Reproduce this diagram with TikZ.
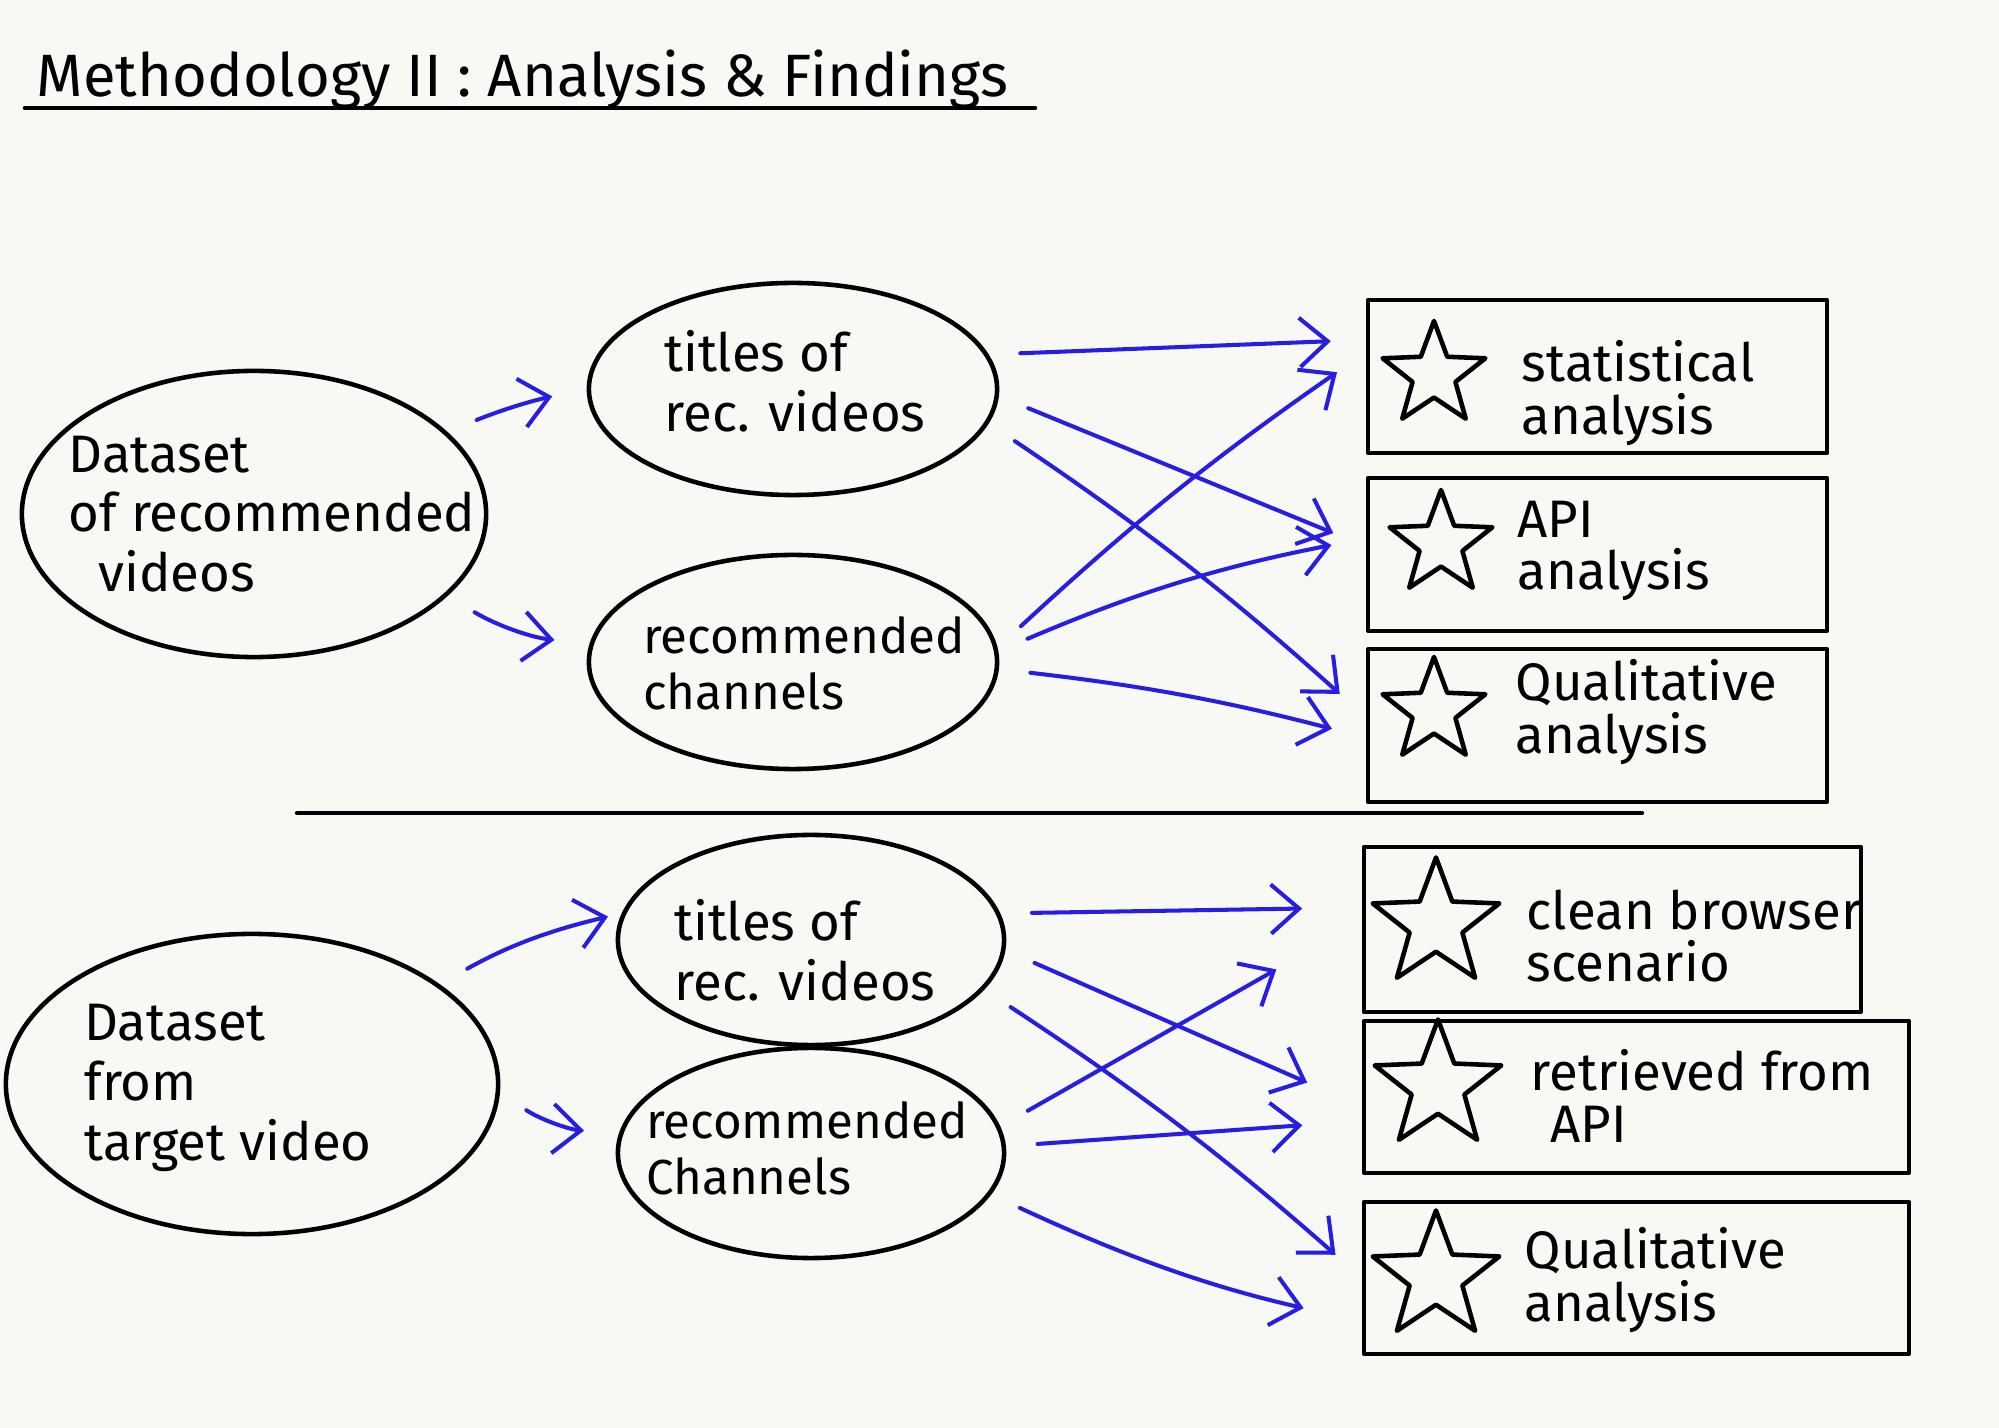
\documentclass[tikz,border=0pt]{standalone}
\usepackage{fontspec}
\setmainfont{Fira Sans}
\usetikzlibrary{shapes.geometric,arrows.meta}
\definecolor{paper}{RGB}{248,248,245}
\definecolor{pen}{RGB}{40,30,225}
\newcommand\handbig{\fontsize{17}{17}\selectfont}
\newcommand\handmid{\fontsize{15}{17}\selectfont}
\newcommand\handsmall{\fontsize{15}{15}\selectfont}
\newcommand\handtight{\fontsize{14}{16}\selectfont}
\tikzset{
	oval/.style={draw, ellipse, line width=1.3pt, inner sep=0pt},
	ovaltext/.style={align=left, inner sep=0pt, font=\handmid},
	resultbox/.style={draw, line width=1.1pt, minimum width=4.59cm, minimum height=1.53cm},
	starmark/.style={draw, star, star points=5, star point ratio=2.4, line width=1.3pt, inner sep=0pt, minimum size=1.08cm},
	boxtext/.style={anchor=west, align=left, font=\handsmall, inner sep=0pt},
	flow/.style={->, pen, line width=1.15pt, shorten <=9pt, shorten >=10pt},
	far/.style={shorten >=17pt}
}
\begin{document}
\begin{tikzpicture}[x=0.01cm, y=-0.01cm, >={Straight Barb[length=8pt,width=14pt]}, line join=round, line cap=round]
		\fill[paper] (0,0) rectangle (1999,1428);
		\useasboundingbox (0,0) rectangle (1999,1428);
		\node[anchor=base west, inner sep=0pt, font=\handbig] (title) at (36,97) {Methodology II : Analysis \& Findings};
		\draw[line width=1.3pt] (25,108)--(1035,108);
		\draw[line width=1.2pt] (297,813)--(1642,813);
		
		\node[oval, minimum width=4.64cm, minimum height=2.86cm] (d1) at (254,514) {};
		\node[oval, minimum width=4.08cm, minimum height=2.12cm] (t1) at (793,389) {};
		\node[oval, minimum width=4.08cm, minimum height=2.14cm] (c1) at (793,662) {};
		\node[ovaltext] (d1txt) at (272,514) {Dataset\\of recommended\\\hspace{0.3cm}videos};
		\node[ovaltext] (t1txt) at (795,381) {titles of\\rec. videos};
		\node[ovaltext, font=\handtight] (c1txt) at (804,663) {recommended\\channels};
		\node[resultbox] (b1) at (1597.5,376.5) {};
		\node[resultbox] (b2) at (1597.5,554.5) {};
		\node[resultbox] (b3) at (1597.5,725.5) {};
		\node[starmark] (s1) at (1434,375) {};
		\node[starmark] (s2) at (1441,544) {};
		\node[starmark] (s3) at (1434,711) {};
		\node[boxtext] (l1) at (1521,393) {statistical\\analysis};
		\node[boxtext] (l2) at (1517,551) {API\\analysis};
		\node[boxtext] (l3) at (1515,712) {Qualitative\\analysis};
		
		\node[oval, minimum width=4.92cm, minimum height=3.00cm] (d2) at (252,1084) {};
		\node[oval, minimum width=3.86cm, minimum height=2.10cm] (t2) at (811,940) {};
		\node[oval, minimum width=3.86cm, minimum height=2.10cm] (c2) at (811,1153) {};
		\node[ovaltext] (d2txt) at (228,1088) {Dataset\\from\\target video};
		\node[ovaltext] (t2txt) at (805,950) {titles of\\rec. videos};
		\node[ovaltext, font=\handtight] (c2txt) at (807,1148) {recommended\\Channels};
		\node[resultbox, minimum width=4.97cm, minimum height=1.65cm] (b4) at (1612.5,929.5) {};
		\node[resultbox, minimum width=5.45cm, minimum height=1.52cm] (b5) at (1636.5,1097) {};
		\node[resultbox, minimum width=5.45cm, minimum height=1.52cm] (b6) at (1636.5,1278) {};
		\node[starmark, minimum size=1.33cm] (s4) at (1436,924) {};
		\node[starmark, minimum size=1.33cm] (s5) at (1438,1086) {};
		\node[starmark, minimum size=1.33cm] (s6) at (1436,1277) {};
		\node[boxtext] (l4) at (1526,936) {clean browser\\scenario};
		\node[boxtext] (l5) at (1530,1096) {retrieved from\\\hspace{0.2cm}API};
		\node[boxtext] (l6) at (1524,1280) {Qualitative\\analysis};
		
		\draw[flow] (d1.23) to[bend left=5] (t1.180);
		\draw[flow] (d1.-23) to[bend right=12] (c1.175);
		\draw[flow] (t1.10) to (b1.171);
		\draw[flow] (t1.-2) to (b2.178);
		\draw[flow] (t1.-10) to[bend left=4] (b3.178);
		\draw[flow] (c1.4) to[bend left=4] (b1.174);
		\draw[flow] (c1.3) to[bend left=6] (b2.176);
		\draw[flow] (c1.-2) to[bend left=4] (b3.183);
		
		\draw[flow, shorten >=4pt] (d2.28) to[bend left=8] (t2.172);
		\draw[flow] (d2.-2) to[bend right=15] (c2.174);
		\draw[flow, far] (t2.8) to (b4.175.5);
		\draw[flow, far] (t2.-3) to (b5.182);
		\draw[flow] (t2.-16) to[bend left=4] (b6.west);
		\draw[flow, shorten >=28pt] (c2.8) to (b4.178.7);
		\draw[flow, far] (c2.2) to (b5.185);
		\draw[flow, far] (c2.-13) to[bend right=6] (b6.189);
\end{tikzpicture}
\end{document}
